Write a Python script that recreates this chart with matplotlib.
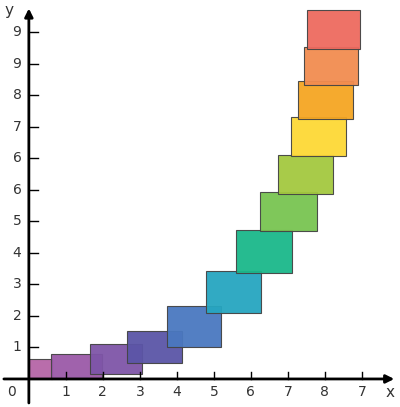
import matplotlib.pyplot as plt
from matplotlib.patches import Rectangle

# rectangles: left, right, bottom, top (data units)
x_left = [0.00, 0.59, 1.65, 2.65, 3.73, 4.78, 5.59, 6.24, 6.73, 7.08, 7.27, 7.43, 7.51]
x_right = [0.62, 1.97, 3.05, 4.14, 5.19, 6.27, 7.11, 7.78, 8.22, 8.57, 8.76, 8.89, 8.95]
y_bottom = [0.00, 0.00, 0.16, 0.51, 1.02, 2.10, 3.37, 4.70, 5.87, 7.08, 8.25, 9.33, 10.48]
y_top = [0.63, 0.79, 1.11, 1.52, 2.32, 3.43, 4.73, 5.94, 7.11, 8.32, 9.46, 10.54, 11.71]
colors = ['#b565a7', '#9b59a8', '#7e55a8', '#5b55a7', '#4a78c0', '#26a6c0', '#1ab88a',
          '#78c451', '#a4c93f', '#fdd835', '#f5a623', '#f28c50', '#ee6a5f']

x_ticks = [1, 2, 3, 4, 5, 6, 7, 8, 9]
x_labels = ['1', '2', '3', '4', '5', '6', '7', '8', '7']
y_ticks = [1, 2, 3, 4, 5, 6, 7, 8, 9, 10, 11]
y_labels = ['1', '2', '3', '4', '5', '6', '6', '7', '8', '9', '9']

fig = plt.figure(figsize=(4, 4.07), dpi=100)
ax = fig.add_axes([0, 0, 1, 1])
ax.set_xlim(-0.78, 10.03)
ax.set_ylim(-0.89, 12.03)
ax.axis('off')

for l, r, b, t, c in zip(x_left, x_right, y_bottom, y_top, colors):
  ax.add_patch(Rectangle((l, b), r - l, t - b, facecolor=c, edgecolor='#444444', lw=0.8, alpha=0.95))

ax.annotate('', xy=(9.95, 0), xytext=(-0.75, 0),
            arrowprops=dict(arrowstyle='-|>', color='black', lw=2, mutation_scale=12))
ax.annotate('', xy=(0, 11.85), xytext=(0, -0.85),
            arrowprops=dict(arrowstyle='-|>', color='black', lw=2, mutation_scale=12))

for t, s in zip(x_ticks, x_labels):
  ax.plot([t, t], [0, 0.22], color='black', lw=1)
  ax.text(t, -0.2, s, ha='center', va='top', fontsize=10, color='#333333')
for t, s in zip(y_ticks, y_labels):
  ax.plot([0, 0.25], [t, t], color='black', lw=1)
  ax.text(-0.2, t, s, ha='right', va='center', fontsize=10, color='#333333')
ax.text(-0.35, -0.2, '0', ha='right', va='top', fontsize=10, color='#333333')
ax.text(9.75, -0.2, 'x', ha='center', va='top', fontsize=11, color='#333333')
ax.text(-0.55, 11.7, 'y', ha='center', va='center', fontsize=11, color='#333333')

plt.savefig('out.png', dpi=100)
